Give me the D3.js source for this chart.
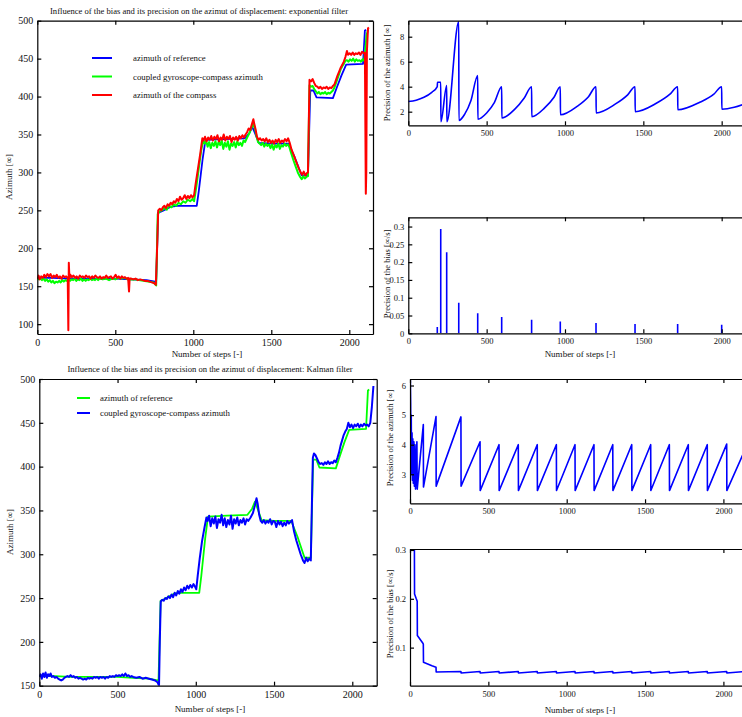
<!DOCTYPE html>
<html>
<head>
<meta charset="utf-8">
<script src="https://cdn.jsdelivr.net/npm/d3@7"></script>
<style>
body { margin: 0; background: #fff; }
svg { font-family: "Liberation Serif", "Times New Roman", serif; }
.axis path, .axis line { stroke: #000; stroke-width: 1.2; }
.axis text { fill: #111; }
</style>
</head>
<body>
<div id="chart"></div>
<script>
// ---- tick labels ----
var stepTicks = [0, 500, 1000, 1500, 2000];
var azTicksExp = [100, 150, 200, 250, 300, 350, 400, 450, 500];
var azTicksKal = [150, 200, 250, 300, 350, 400, 450, 500];
var precTicksExp = [2, 4, 6, 8];
var biasTicksExp = [0, 0.05, 0.1, 0.15, 0.2, 0.25, 0.3];
var precTicksKal = [3, 4, 5, 6];
var biasTicksKal = [0.1, 0.2, 0.3];

// ---- azimuth of reference [step, deg] ----
var refAzimuth = [[0,161],[100,161],[200,160],[300,160],[400,160],[500,160],[600,159],[700,158],[755,156],
  [762,157],[775,247],[800,249],[860,255],[900,256],[1022,256],[1035,275],[1060,318],[1078,343],[1200,344],
  [1330,345],[1360,352],[1378,360],[1395,352],[1420,339],[1500,338],[1610,338],[1650,320],[1695,296],
  [1735,296],[1750,408],[1770,408],[1790,399],[1895,398],[1920,412],[1950,428],[1980,442],[2088,443],
  [2100,487],[2108,488]];

// ---- azimuth of the compass (exponential filter panel) ----
var compassAzimuth = [[0,160],[8,164],[16,159],[25,163],[35,161],[45,165],[55,162],[65,166],[75,163],[85,166],
  [95,161],[105,164],[115,162],[125,165],[135,161],[145,163],[155,160],[165,164],[175,162],[185,163],[195,161],
  [199,92],[202,181],[206,160],[212,165],[222,162],[232,164],[242,161],[252,163],[262,160],[272,164],[282,162],
  [292,163],[302,161],[312,164],[322,162],[332,163],[342,160],[352,163],[362,161],[372,164],[382,162],[392,161],
  [402,163],[412,160],[422,162],[432,161],[442,164],[452,161],[462,162],[472,163],[482,160],[492,162],[502,165],
  [512,161],[522,163],[532,160],[542,163],[552,161],[562,162],[572,160],[582,161],[588,143],[592,160],[602,160],
  [615,159],[630,160],[645,158],[660,159],[675,158],[690,157],[705,157],[720,156],[735,155],[750,154],[760,152],
  [768,200],[775,250],[785,252],[795,250],[805,254],[815,256],[825,253],[835,258],[845,256],[855,260],[865,258],
  [875,262],[885,260],[895,265],[905,262],[915,268],[925,264],[935,266],[945,270],[955,265],[965,269],[975,266],
  [985,270],[995,267],[1005,270],[1015,285],[1030,305],[1045,325],[1058,345],[1065,342],[1075,347],[1085,341],
  [1095,346],[1105,343],[1115,348],[1125,342],[1135,347],[1145,344],[1155,349],[1165,341],[1175,346],[1185,343],
  [1195,350],[1205,342],[1215,347],[1225,344],[1235,348],[1245,340],[1255,346],[1265,343],[1275,347],[1285,342],
  [1295,348],[1305,345],[1315,349],[1325,346],[1335,350],[1345,353],[1355,358],[1365,356],[1375,363],[1385,370],
  [1390,365],[1398,358],[1408,347],[1418,343],[1428,345],[1438,342],[1448,344],[1458,341],[1468,345],[1478,340],
  [1488,343],[1498,339],[1508,342],[1518,338],[1528,343],[1538,340],[1548,344],[1558,339],[1568,342],[1578,340],
  [1588,344],[1598,341],[1608,345],[1618,339],[1630,330],[1645,322],[1660,314],[1675,306],[1688,300],[1698,297],
  [1708,301],[1718,296],[1728,299],[1735,300],[1745,422],[1755,420],[1765,423],[1775,418],[1785,414],[1795,413],
  [1805,411],[1815,413],[1825,410],[1835,412],[1845,411],[1855,413],[1865,410],[1875,412],[1885,411],[1895,414],
  [1905,416],[1915,422],[1925,428],[1935,433],[1945,438],[1955,442],[1965,446],[1975,452],[1985,460],[1992,455],
  [2002,457],[2012,455],[2022,458],[2032,455],[2042,457],[2052,456],[2062,458],[2072,455],[2082,459],[2092,457],
  [2100,458],[2106,272],[2109,300],[2113,460],[2120,490],[2126,491]];

// ---- coupled gyroscope-compass azimuth, exponential filter ----
var expCoupled = [[0,161],[10,159],[20,161],[30,158],[40,160],[50,157],[60,159],[70,156],[80,158],[90,155],
  [100,157],[110,154],[120,156],[130,155],[140,157],[150,155],[160,158],[170,156],[180,158],[190,157],[200,159],
  [210,157],[220,159],[230,158],[240,160],[250,157],[260,159],[270,158],[280,160],[290,157],[300,159],[310,157],
  [320,159],[330,158],[340,160],[350,158],[360,159],[370,158],[380,160],[390,158],[400,160],[420,159],[440,160],
  [460,158],[480,160],[500,159],[520,161],[540,160],[560,161],[580,159],[600,159],[630,159],[660,158],[690,157],
  [720,156],[745,155],[762,151],[772,245],[785,249],[800,250],[815,253],[830,251],[845,256],[860,254],[875,258],
  [890,256],[905,260],[920,258],[935,262],[950,260],[965,264],[980,262],[995,265],[1005,262],[1020,282],
  [1035,305],[1050,328],[1063,342],[1072,338],[1082,342],[1092,334],[1102,340],[1112,332],[1122,339],[1132,335],
  [1142,341],[1152,333],[1162,340],[1172,336],[1182,342],[1192,331],[1202,339],[1212,334],[1222,341],[1232,330],
  [1242,338],[1252,335],[1262,340],[1272,333],[1282,341],[1292,336],[1302,339],[1312,335],[1322,342],[1332,340],
  [1345,346],[1360,352],[1372,358],[1385,365],[1395,358],[1405,348],[1415,340],[1425,338],[1435,336],[1445,339],
  [1455,334],[1465,338],[1475,335],[1485,337],[1495,332],[1505,337],[1515,330],[1525,336],[1535,333],[1545,338],
  [1555,331],[1565,336],[1575,334],[1585,338],[1595,335],[1605,337],[1615,334],[1628,325],[1642,316],[1656,308],
  [1670,300],[1685,294],[1695,291],[1705,295],[1715,292],[1725,294],[1735,295],[1745,415],[1755,413],[1765,414],
  [1775,410],[1785,407],[1795,404],[1805,406],[1815,403],[1825,405],[1835,404],[1845,406],[1855,403],[1865,405],
  [1875,404],[1885,406],[1895,408],[1905,412],[1915,418],[1925,424],[1935,430],[1945,436],[1955,440],[1965,443],
  [1975,447],[1985,448],[1995,446],[2005,449],[2015,447],[2025,450],[2035,446],[2045,449],[2055,447],[2065,448],
  [2075,446],[2085,449],[2095,447],[2102,460],[2110,480],[2120,488]];

// ---- coupled gyroscope-compass azimuth, Kalman filter ----
var kalmanCoupled = [[0,160],[8,163],[16,158],[24,164],[32,160],[40,165],[48,159],[56,163],[64,161],[72,164],
  [80,160],[90,161],[100,159],[110,160],[120,158],[130,157],[140,156],[150,157],[160,159],[170,160],[180,161],
  [190,160],[200,162],[210,160],[220,161],[230,159],[240,160],[250,158],[260,159],[270,158],[280,157],[290,158],
  [300,157],[310,159],[320,158],[330,159],[340,158],[350,160],[360,159],[370,160],[380,158],[390,160],[400,159],
  [410,160],[420,158],[430,160],[440,159],[450,161],[460,160],[470,161],[480,160],[490,162],[500,161],[510,162],
  [520,161],[530,163],[540,161],[550,164],[560,161],[570,162],[580,160],[590,161],[600,160],[620,159],[640,160],
  [660,158],[680,159],[700,158],[720,157],[740,156],[755,154],[765,150],[770,200],[776,246],[785,248],[795,247],
  [805,250],[815,249],[825,252],[835,250],[845,254],[855,251],[865,256],[875,253],[885,258],[895,255],[905,260],
  [915,257],[925,262],[935,259],[945,264],[955,261],[965,265],[975,262],[985,266],[995,263],[1003,260],
  [1012,275],[1025,295],[1040,315],[1055,330],[1068,342],[1075,338],[1085,344],[1095,332],[1105,341],[1115,335],
  [1125,343],[1135,330],[1145,340],[1155,336],[1165,345],[1175,333],[1185,341],[1195,331],[1205,339],[1215,334],
  [1225,344],[1235,329],[1245,340],[1255,335],[1265,342],[1275,333],[1285,339],[1295,336],[1305,341],[1315,334],
  [1325,340],[1335,338],[1350,342],[1365,347],[1378,356],[1388,364],[1396,357],[1405,345],[1415,338],[1425,336],
  [1435,339],[1445,335],[1455,338],[1465,336],[1475,340],[1485,334],[1495,338],[1505,337],[1515,331],[1525,338],
  [1535,334],[1545,337],[1555,332],[1565,336],[1575,333],[1585,338],[1595,335],[1605,337],[1615,339],[1628,326],
  [1642,316],[1656,308],[1670,300],[1685,293],[1695,290],[1705,296],[1715,292],[1725,295],[1735,293],[1740,340],
  [1748,410],[1755,415],[1765,413],[1775,409],[1785,405],[1795,403],[1805,404],[1815,402],[1825,405],[1835,403],
  [1845,406],[1855,403],[1865,405],[1875,404],[1885,407],[1895,405],[1905,410],[1915,416],[1925,424],[1935,430],
  [1945,436],[1955,440],[1965,443],[1975,450],[1985,445],[1995,448],[2005,444],[2015,448],[2025,446],[2035,449],
  [2045,445],[2055,448],[2065,446],[2075,449],[2085,447],[2095,448],[2105,446],[2115,450],[2125,468],[2135,492]];

// ---- precision of the azimuth, exponential filter ----
var precExp = [[0,2.82],[50,2.92],[100,3.15],[150,3.55],[185,4.0],[186,4.35],[207,4.35],[208,1.2],[245,4.1],
  [246,1.2],[322,9.2],[323,1.3],[360,1.8],[400,2.9],[443,4.9],[444,1.4],[500,1.9],[550,2.75],[596,4.0],
  [597,1.5],[680,2.2],[740,3.1],[787,4.0],[788,1.6],[870,2.3],[930,3.15],[970,4.0],[971,1.75],[1080,2.45],
  [1150,3.2],[1198,4.0],[1199,1.9],[1320,2.6],[1400,3.35],[1447,4.0],[1448,2.0],[1580,2.65],[1670,3.4],
  [1719,4.0],[1720,2.15],[1860,2.75],[1950,3.4],[2000,4.0],[2001,2.2],[2080,2.35],[2142,2.6]];

// ---- precision of the bias, exponential filter (impulses) ----
var biasExpSteps = [185, 207, 245, 322, 443, 596, 787, 970, 1198, 1447, 1719, 2000];
var biasExpValues = [0.018, 0.293, 0.228, 0.086, 0.056, 0.046, 0.038, 0.033, 0.029, 0.026, 0.026, 0.024];

// ---- precision of the azimuth, Kalman filter ----
var precKal = [[0,6.1],[2,6.18],[4,5.4],[6,3.2],[8,5.0],[10,3.0],[13,4.4],[15,2.8],[18,4.2],[21,2.7],[25,4.1],
  [28,2.6],[32,4.0],[35,2.5],[44,4.1],[46,2.5],[85,4.68],[86,2.57],[166,4.95],[167,2.6],[325,4.94],[326,2.6],
  [447,4.1],[448,2.45],[568,4.0],[569,2.45],[691,4.0],[692,2.45],[812,4.0],[813,2.45],[934,4.0],[935,2.45],
  [1053,4.0],[1054,2.45],[1174,4.0],[1175,2.45],[1294,4.0],[1295,2.45],[1415,4.0],[1416,2.45],[1536,4.0],
  [1537,2.45],[1655,4.0],[1656,2.45],[1776,4.0],[1777,2.45],[1897,4.0],[1898,2.45],[2021,4.02],[2022,2.45],
  [2131,3.75]];

// ---- precision of the bias, Kalman filter ----
var biasKal = [[28,0.31],[29,0.21],[40,0.2],[46,0.195],[47,0.125],[80,0.11],[85,0.107],[86,0.07],[140,0.063],
  [166,0.06],[167,0.05],[325,0.051],[326,0.048],[447,0.051],[448,0.048],[568,0.051],[569,0.048],[691,0.051],
  [692,0.048],[812,0.051],[813,0.048],[934,0.051],[935,0.048],[1053,0.051],[1054,0.048],[1174,0.051],
  [1175,0.048],[1294,0.051],[1295,0.048],[1415,0.051],[1416,0.048],[1536,0.051],[1537,0.048],[1655,0.051],
  [1656,0.048],[1776,0.051],[1777,0.048],[1897,0.051],[1898,0.048],[2021,0.051],[2022,0.048],[2131,0.051]];

var svg = d3.select("#chart").append("svg")
    .attr("width", 742)
    .attr("height", 717);

var clipCount = 0;

// build one subplot with frame, inward ticks on 4 sides and labels on left/bottom
function makePanel(box, xDom, yDom, yTicks, yFmt, fs, rightTicks) {
    var x = d3.scaleLinear().domain(xDom).range([box.l, box.r]);
    var y = d3.scaleLinear().domain(yDom).range([box.b, box.t]);
    var id = "clip" + (clipCount++);
    svg.append("clipPath").attr("id", id)
        .append("rect")
        .attr("x", box.l).attr("y", box.t)
        .attr("width", box.r - box.l).attr("height", box.b - box.t);

    var plot = svg.append("g").attr("clip-path", "url(#" + id + ")");

    svg.append("g").attr("class", "axis")
        .attr("transform", "translate(0," + box.b + ")")
        .call(d3.axisBottom(x).tickValues(stepTicks).tickSize(-4).tickSizeOuter(0).tickPadding(5).tickFormat(d3.format("d")));
    svg.append("g").attr("class", "axis")
        .attr("transform", "translate(0," + box.t + ")")
        .call(d3.axisTop(x).tickValues(stepTicks).tickSize(-4).tickSizeOuter(0).tickFormat(""));
    svg.append("g").attr("class", "axis")
        .attr("transform", "translate(" + box.l + ",0)")
        .call(d3.axisLeft(y).tickValues(yTicks).tickSize(-4).tickSizeOuter(0).tickPadding(4).tickFormat(yFmt));
    if (rightTicks) {
        svg.append("g").attr("class", "axis")
            .attr("transform", "translate(" + box.r + ",0)")
            .call(d3.axisRight(y).tickValues(yTicks).tickSize(-4).tickSizeOuter(0).tickFormat(""));
    }

    svg.selectAll(".axis text").filter(function() { return !this.getAttribute("font-size"); })
        .attr("font-size", fs).attr("font-family", "Liberation Serif");

    return { x: x, y: y, plot: plot };
}

function drawLine(p, data, color, width, curve) {
    var line = d3.line()
        .x(function(d) { return p.x(d[0]); })
        .y(function(d) { return p.y(d[1]); })
        .curve(curve || d3.curveLinear);
    p.plot.append("path")
        .datum(data)
        .attr("fill", "none")
        .attr("stroke", color)
        .attr("stroke-width", width)
        .attr("stroke-linejoin", "round")
        .attr("d", line);
}

function addText(x, y, str, fs, anchor, rotate) {
    var t = svg.append("text")
        .attr("x", x).attr("y", y)
        .attr("font-size", fs)
        .attr("fill", "#111")
        .attr("text-anchor", anchor || "middle")
        .text(str);
    if (rotate) t.attr("transform", "rotate(-90," + x + "," + y + ")");
    return t;
}

var numFmt = function(d) { return String(+d.toFixed(2)); };

// ---------- exponential filter, azimuth ----------
var p1 = makePanel({ l: 37.3, r: 373, t: 20.7, b: 334 }, [0, 2152], [87, 500], azTicksExp, d3.format("d"), 10, true);
drawLine(p1, refAzimuth, "#0000ff", 1.8);
drawLine(p1, expCoupled, "#00ff00", 2);
drawLine(p1, compassAzimuth, "#ff0000", 2);
addText(199, 14, "Influence of the bias and its precision on the azimut of displacement: exponential filter", 8.6);
addText(207, 357, "Number of steps [-]", 9);
addText(12, 177, "Azimuth [\u221e]", 9, "middle", true);

var leg1 = [["azimuth of reference", "#0000ff"], ["coupled gyroscope-compass azimuth", "#00ff00"], ["azimuth of the compass", "#ff0000"]];
leg1.forEach(function(l, i) {
    var yy = 58 + i * 18.5;
    svg.append("line").attr("x1", 92).attr("x2", 112).attr("y1", yy).attr("y2", yy)
        .attr("stroke", l[1]).attr("stroke-width", 2);
    addText(133, yy + 3, l[0], 8.8, "start");
});

// ---------- exponential filter, precision of azimuth ----------
var p2 = makePanel({ l: 408.3, r: 748, t: 20.7, b: 125.3 }, [0, 2168], [0.91, 9.28], precTicksExp, d3.format("d"), 8.5, false);
drawLine(p2, precExp, "#0000ff", 1.6, d3.curveMonotoneX);
addText(390, 73, "Precision of the azimuth [\u221e]", 8.5, "middle", true);

// ---------- exponential filter, precision of bias ----------
var p3 = makePanel({ l: 408.3, r: 748, t: 217.3, b: 333.3 }, [0, 2168], [0, 0.326], biasTicksExp, numFmt, 8.5, false);
p3.plot.selectAll(".stem")
    .data(biasExpSteps)
    .enter()
    .append("line")
    .attr("class", "stem")
    .attr("x1", function(d) { return p3.x(d); })
    .attr("x2", function(d) { return p3.x(d); })
    .attr("y1", p3.y(0))
    .attr("y2", function(d, i) { return p3.y(biasExpValues[i]); })
    .attr("stroke", "#0000ff")
    .attr("stroke-width", 1.6);
addText(580, 357, "Number of steps [-]", 9);
addText(390, 274, "Precision of the bias [\u221e/s]", 8.5, "middle", true);

// ---------- Kalman filter, azimuth ----------
var p4 = makePanel({ l: 39.3, r: 376.7, t: 379, b: 685.7 }, [0, 2156], [150, 500], azTicksKal, d3.format("d"), 10, true);
drawLine(p4, refAzimuth, "#00ff00", 1.8);
drawLine(p4, kalmanCoupled, "#0000ff", 2);
addText(210, 372, "Influence of the bias and its precision on the azimut of displacement: Kalman filter", 8.6);
addText(210, 712, "Number of steps [-]", 9);
addText(13, 532, "Azimuth [\u221e]", 9, "middle", true);

var leg4 = [["azimuth of reference", "#00ff00"], ["coupled gyroscope-compass azimuth", "#0000ff"]];
leg4.forEach(function(l, i) {
    var yy = 398 + i * 15;
    svg.append("line").attr("x1", 77).attr("x2", 90).attr("y1", yy).attr("y2", yy)
        .attr("stroke", l[1]).attr("stroke-width", 2);
    addText(100, yy + 3, l[0], 8.8, "start");
});

// ---------- Kalman filter, precision of azimuth ----------
var p5 = makePanel({ l: 410, r: 748, t: 379, b: 503.3 }, [0, 2157], [2.02, 6.22], precTicksKal, d3.format("d"), 8.5, false);
drawLine(p5, precKal, "#0000ff", 1.6);
addText(393, 438, "Precision of the azimuth [\u221e]", 8.5, "middle", true);

// ---------- Kalman filter, precision of bias ----------
var p6 = makePanel({ l: 410, r: 748, t: 549, b: 685.7 }, [0, 2157], [0.022, 0.302], biasTicksKal, numFmt, 8.5, false);
drawLine(p6, biasKal, "#0000ff", 1.6);
addText(580, 713, "Number of steps [-]", 9);
addText(393, 614, "Precision of the bias [\u221e/s]", 8.5, "middle", true);
</script>
</body>
</html>
